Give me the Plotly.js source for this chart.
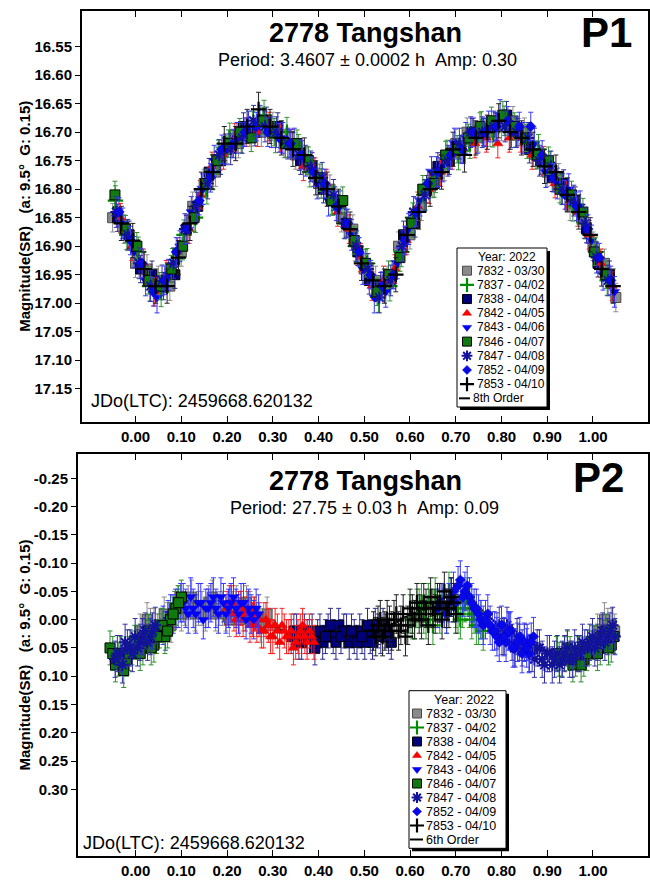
<!DOCTYPE html>
<html><head><meta charset="utf-8">
<script src="https://cdn.plot.ly/plotly-3.0.1.min.js"></script>
<style>html,body{margin:0;padding:0;background:#fff}#chart{width:650px;height:884px}</style>
</head><body><div id="chart"></div>
<script>
// ---------- DATA ----------
const sessionNames = ['7832 - 03/30','7837 - 04/02','7838 - 04/04','7842 - 04/05','7843 - 04/06','7846 - 04/07','7847 - 04/08','7852 - 04/09','7853 - 04/10'];
const legendTitle = 'Year: 2022';
const fitNameP1 = '8th Order';
const fitNameP2 = '6th Order';
const phaseTickVals = [0,0.1,0.2,0.3,0.4,0.5,0.6,0.7,0.8,0.9,1.0];
const phaseTickText = ['0.00','0.10','0.20','0.30','0.40','0.50','0.60','0.70','0.80','0.90','1.00'];
const p1TickVals = [16.55,16.60,16.65,16.70,16.75,16.80,16.85,16.90,16.95,17.00,17.05,17.10,17.15];
const p1TickText = ['16.55','16.60','16.65','16.70','16.75','16.80','16.85','16.90','16.95','17.00','17.05','17.10','17.15'];
const p2TickVals = [-0.25,-0.20,-0.15,-0.10,-0.05,0.00,0.05,0.10,0.15,0.20,0.25,0.30];
const p2TickText = ['-0.25','-0.20','-0.15','-0.10','-0.05','0.00','0.05','0.10','0.15','0.20','0.25','0.30'];

// P1 (3.4607 h) phased magnitudes
const p1Phase_7832 = [-0.050,-0.025,0.000,0.025,0.050,0.075,0.100,0.125,0.150,0.175,0.200,0.225,0.250,0.275,0.300,0.325,0.350,0.375,0.400,0.425,0.450,0.475,0.500,0.525,0.550,0.575,0.600,0.625,0.650,0.675,0.700,0.725,0.750,0.775,0.800,0.825,0.850,0.875,0.900,0.925,0.950,0.975,1.000,1.025,1.050];
const p1Mag_7832   = [16.85,16.87,16.93,16.94,16.96,16.97,16.91,16.83,16.79,16.77,16.73,16.72,16.70,16.70,16.69,16.72,16.74,16.75,16.79,16.80,16.85,16.87,16.94,16.96,16.96,16.90,16.88,16.83,16.79,16.76,16.72,16.70,16.71,16.70,16.69,16.68,16.70,16.74,16.77,16.78,16.83,16.85,16.90,16.93,16.99];
const p1Phase_7837 = [-0.044,-0.019,0.006,0.031,0.056,0.081,0.106,0.131,0.156,0.181,0.206,0.231,0.256,0.281,0.306,0.331,0.356,0.381,0.406,0.431,0.456,0.481,0.506,0.531,0.556,0.581,0.606,0.631,0.656,0.681,0.706,0.731,0.756,0.781,0.806,0.831,0.856,0.881,0.906,0.931,0.956,0.981,1.006,1.031];
const p1Mag_7837   = [16.82,16.88,16.91,16.97,16.98,16.93,16.88,16.85,16.80,16.74,16.71,16.71,16.69,16.67,16.71,16.70,16.73,16.77,16.79,16.82,16.86,16.90,16.93,16.99,16.97,16.91,16.85,16.81,16.78,16.74,16.74,16.72,16.69,16.70,16.68,16.70,16.72,16.73,16.76,16.80,16.83,16.86,16.91,16.96];
const p1Phase_7838 = [-0.039,-0.014,0.011,0.036,0.061,0.086,0.111,0.136,0.161,0.186,0.211,0.236,0.261,0.286,0.311,0.336,0.361,0.386,0.411,0.436,0.461,0.486,0.511,0.536,0.561,0.586,0.611,0.636,0.661,0.686,0.711,0.736,0.761,0.786,0.811,0.836,0.861,0.886,0.911,0.936,0.961,0.986,1.011,1.036];
const p1Mag_7838   = [16.85,16.88,16.94,16.95,16.97,16.95,16.87,16.83,16.77,16.75,16.72,16.69,16.70,16.68,16.69,16.72,16.75,16.76,16.80,16.82,16.86,16.91,16.96,16.97,16.95,16.88,16.86,16.80,16.76,16.75,16.73,16.70,16.70,16.69,16.67,16.70,16.73,16.75,16.78,16.79,16.82,16.87,16.93,16.95];
const p1Phase_7842 = [-0.033,-0.008,0.017,0.042,0.067,0.092,0.117,0.142,0.167,0.192,0.217,0.242,0.267,0.292,0.317,0.342,0.367,0.392,0.417,0.442,0.467,0.492,0.517,0.542,0.567,0.592,0.617,0.642,0.667,0.692,0.717,0.742,0.767,0.792,0.817,0.842,0.867,0.892,0.917,0.942,0.967,0.992,1.017,1.042];
const p1Mag_7842   = [16.85,16.90,16.93,16.98,16.95,16.91,16.87,16.81,16.76,16.74,16.71,16.70,16.70,16.69,16.71,16.72,16.76,16.77,16.79,16.84,16.87,16.92,16.97,16.96,16.94,16.89,16.83,16.80,16.77,16.74,16.73,16.72,16.71,16.72,16.71,16.71,16.74,16.75,16.79,16.81,16.84,16.88,16.93,16.97];
const p1Phase_7843 = [-0.028,-0.003,0.022,0.047,0.072,0.097,0.122,0.147,0.172,0.197,0.222,0.247,0.272,0.297,0.322,0.347,0.372,0.397,0.422,0.447,0.472,0.497,0.522,0.547,0.572,0.597,0.622,0.647,0.672,0.697,0.722,0.747,0.772,0.797,0.822,0.847,0.872,0.897,0.922,0.947,0.972,0.997,1.022,1.047];
const p1Mag_7843   = [16.86,16.91,16.96,16.99,16.95,16.90,16.84,16.80,16.75,16.73,16.71,16.69,16.68,16.70,16.71,16.72,16.75,16.79,16.82,16.83,16.88,16.94,16.99,16.98,16.93,16.87,16.82,16.77,16.76,16.72,16.71,16.71,16.69,16.67,16.70,16.71,16.72,16.77,16.79,16.80,16.83,16.89,16.95,16.98];
const p1Phase_7846 = [-0.045,-0.022,0.003,0.028,0.053,0.078,0.103,0.128,0.153,0.178,0.203,0.228,0.253,0.278,0.303,0.328,0.353,0.378,0.403,0.428,0.453,0.478,0.503,0.528,0.553,0.578,0.603,0.628,0.653,0.678,0.703,0.728,0.753,0.778,0.803,0.828,0.853,0.878,0.903,0.928,0.953,0.978,1.003,1.028];
const p1Mag_7846   = [16.81,16.87,16.90,16.96,16.97,16.94,16.90,16.85,16.79,16.75,16.72,16.70,16.71,16.68,16.70,16.72,16.72,16.75,16.78,16.82,16.82,16.89,16.93,16.98,16.95,16.92,16.86,16.80,16.79,16.74,16.73,16.71,16.69,16.68,16.67,16.69,16.71,16.74,16.75,16.80,16.81,16.84,16.91,16.95];
const p1Phase_7847 = [-0.042,-0.017,0.008,0.033,0.058,0.083,0.108,0.133,0.158,0.183,0.208,0.233,0.258,0.283,0.308,0.333,0.358,0.383,0.408,0.433,0.458,0.483,0.508,0.533,0.558,0.583,0.608,0.633,0.658,0.683,0.708,0.733,0.758,0.783,0.808,0.833,0.858,0.883,0.908,0.933,0.958,0.983,1.008,1.033];
const p1Mag_7847   = [16.84,16.88,16.93,16.97,16.96,16.93,16.87,16.83,16.79,16.74,16.73,16.71,16.68,16.69,16.70,16.72,16.74,16.76,16.78,16.81,16.86,16.90,16.94,16.99,16.96,16.90,16.84,16.81,16.77,16.75,16.72,16.70,16.70,16.69,16.69,16.70,16.71,16.75,16.76,16.80,16.82,16.86,16.92,16.96];
const p1Phase_7852 = [-0.036,-0.011,0.014,0.039,0.064,0.089,0.114,0.139,0.164,0.189,0.214,0.239,0.264,0.289,0.314,0.339,0.364,0.389,0.414,0.439,0.464,0.489,0.514,0.539,0.564,0.589,0.614,0.639,0.664,0.689,0.714,0.739,0.764,0.789,0.814,0.839,0.864,0.889,0.914,0.939,0.964,0.989,1.014,1.039];
const p1Mag_7852   = [16.84,16.89,16.93,16.98,16.96,16.91,16.87,16.82,16.78,16.73,16.72,16.70,16.69,16.70,16.71,16.72,16.74,16.77,16.79,16.83,16.86,16.91,16.95,16.97,16.95,16.89,16.84,16.79,16.77,16.74,16.73,16.70,16.70,16.69,16.68,16.69,16.69,16.74,16.78,16.81,16.83,16.87,16.92,16.96];
const p1Phase_7853 = [-0.031,-0.006,0.019,0.044,0.069,0.094,0.119,0.144,0.169,0.194,0.219,0.244,0.269,0.294,0.319,0.344,0.369,0.394,0.419,0.444,0.469,0.494,0.519,0.544,0.569,0.594,0.619,0.644,0.669,0.694,0.719,0.744,0.769,0.794,0.819,0.844,0.869,0.894,0.919,0.944,0.969,0.994,1.019,1.044];
const p1Mag_7853   = [16.86,16.89,16.94,16.97,16.97,16.92,16.86,16.80,16.77,16.72,16.72,16.69,16.66,16.69,16.71,16.73,16.74,16.78,16.80,16.83,16.87,16.93,16.96,16.97,16.95,16.88,16.84,16.80,16.77,16.73,16.74,16.71,16.70,16.68,16.70,16.71,16.73,16.76,16.77,16.81,16.84,16.88,16.94,16.97];
const p1Err = [0.025,0.026,0.024,0.025,0.027,0.024,0.027,0.025,0.030];

const fitPhase = [-0.05,-0.03,-0.01,0.01,0.03,0.05,0.07,0.09,0.11,0.13,0.15,0.17,0.19,0.21,0.23,0.25,0.27,0.29,0.31,0.33,0.35,0.37,0.39,0.41,0.43,0.45,0.47,0.49,0.51,0.53,0.55,0.57,0.59,0.61,0.63,0.65,0.67,0.69,0.71,0.73,0.75,0.77,0.79,0.81,0.83,0.85,0.87,0.89,0.91,0.93,0.95,0.97,0.99,1.01,1.03,1.05];
const fitP1Mag = [16.83,16.85,16.89,16.93,16.96,16.975,16.96,16.92,16.875,16.835,16.80,16.765,16.735,16.715,16.70,16.69,16.685,16.69,16.70,16.715,16.735,16.75,16.765,16.79,16.815,16.845,16.875,16.91,16.95,16.98,16.97,16.945,16.895,16.85,16.81,16.78,16.755,16.74,16.725,16.71,16.70,16.69,16.68,16.685,16.695,16.71,16.73,16.75,16.775,16.795,16.815,16.835,16.87,16.915,16.95,16.97];

// P2 (27.75 h) phased residual magnitudes
const p2Phase_7832 = [0.010,0.025,0.040,0.055,0.070,0.085,0.100,0.115,0.130,0.145,0.160,0.175,0.190,0.205,0.220,0.235,0.250,0.265,0.280,0.295,1.010,1.025,1.040,
  0.0175,0.0325,0.0475,0.0625,0.0775,0.0925,0.1075,0.1225,0.1375,0.1525,0.1675,0.1825,0.1975,0.2125,0.2275,0.2425,0.2575,0.2725,0.2875,1.0175,1.0325,1.0475];
const p2Mag_7832   = [0.02,0.00,0.01,0.01,0.00,-0.02,-0.01,-0.03,-0.01,-0.02,-0.03,-0.01,-0.02,0.00,-0.03,-0.01,-0.02,0.00,0.00,0.01,0.02,0.00,0.01,
  0.03,0.01,0.02,-0.01,0.01,-0.03,-0.02,-0.04,-0.02,-0.01,-0.04,-0.02,-0.01,-0.02,0.00,-0.03,-0.01,0.01,-0.01,0.03,0.01,0.02];
const p2Phase_7837 = [0.600,0.610,0.620,0.630,0.640,0.650,0.660,0.670,0.680,0.690,0.700,0.710,0.720,0.730,0.740,0.750,0.760,
  0.605,0.615,0.625,0.635,0.645,0.655,0.665,0.675,0.685,0.695,0.705,0.715,0.725,0.735,0.745,0.755];
const p2Mag_7837   = [-0.01,0.00,-0.02,-0.01,-0.03,0.01,-0.02,-0.03,-0.01,-0.04,-0.02,0.00,-0.03,-0.02,-0.01,0.01,0.02,
  0.00,-0.02,-0.03,0.00,-0.02,-0.04,-0.01,-0.02,-0.05,-0.03,-0.01,-0.02,-0.04,0.00,0.01,0.00];
const p2Phase_7838 = [0.340,0.352,0.363,0.375,0.386,0.398,0.409,0.421,0.432,0.444,0.455,0.467,0.478,0.490,0.501,0.513,0.524,0.536,0.547,0.559,
  0.346,0.357,0.369,0.380,0.392,0.403,0.415,0.426,0.438,0.449,0.461,0.472,0.484,0.495,0.507,0.518,0.530,0.541,0.553];
const p2Mag_7838   = [0.03,0.02,0.04,0.03,0.02,0.03,0.04,0.02,0.03,0.01,0.02,0.04,0.03,0.02,0.04,0.03,0.01,0.03,0.02,0.04,
  0.02,0.04,0.02,0.03,0.05,0.02,0.03,0.01,0.04,0.03,0.02,0.02,0.04,0.03,0.01,0.04,0.02,0.01,0.03];
const p2Phase_7842 = [0.200,0.210,0.220,0.230,0.240,0.250,0.260,0.270,0.280,0.290,0.300,0.310,0.320,0.330,0.340,0.350,0.360,0.370,0.380,0.390,
  0.205,0.215,0.225,0.235,0.245,0.255,0.265,0.275,0.285,0.295,0.305,0.315,0.325,0.335,0.345,0.355,0.365,0.375,0.385];
const p2Mag_7842   = [-0.02,-0.03,0.00,-0.02,-0.01,0.01,-0.01,0.00,0.02,0.01,0.03,0.02,0.01,0.03,0.02,0.04,0.02,0.03,0.02,0.04,
  -0.03,-0.01,-0.02,0.00,-0.02,0.00,0.01,0.02,0.00,0.03,0.01,0.04,0.02,0.03,0.05,0.03,0.01,0.04,0.03];
const p2Phase_7843 = [0.060,0.071,0.082,0.093,0.104,0.115,0.126,0.137,0.148,0.159,0.170,0.181,0.192,0.203,0.214,0.225,0.236,0.247,0.258,0.269,
  0.0655,0.0765,0.0875,0.0985,0.1095,0.1205,0.1315,0.1425,0.1535,0.1645,0.1755,0.1865,0.1975,0.2085,0.2195,0.2305,0.2415,0.2525,0.2635];
const p2Mag_7843   = [0.01,0.00,-0.01,-0.02,-0.03,-0.01,-0.02,-0.03,0.00,-0.02,-0.04,-0.01,-0.03,-0.02,-0.04,-0.01,-0.03,-0.02,0.00,-0.01,
  0.02,-0.01,-0.02,-0.03,-0.02,-0.04,-0.01,-0.03,-0.02,-0.03,-0.02,-0.04,-0.01,-0.03,-0.02,-0.03,0.00,-0.01,-0.02];
const p2Phase_7846 = [-0.056,-0.044,-0.032,-0.020,-0.008,0.004,0.016,0.028,0.040,0.052,0.064,0.076,0.088,0.100,0.920,0.932,0.944,0.956,0.968,0.980,0.992,1.004,1.016,1.028,1.040,
  -0.050,-0.038,-0.026,-0.014,-0.002,0.010,0.022,0.034,0.046,0.058,0.070,0.082,0.094,0.926,0.938,0.950,0.962,0.974,0.986,0.998,1.010,1.022,1.034,1.046];
const p2Mag_7846   = [0.05,0.08,0.06,0.07,0.05,0.04,0.05,0.02,0.045,0.02,0.03,0.00,-0.02,-0.04,0.06,0.07,0.05,0.08,0.06,0.07,0.05,0.04,0.05,0.02,0.045,
  0.06,0.07,0.09,0.06,0.04,0.06,0.03,0.05,0.03,0.01,0.02,-0.01,-0.03,0.07,0.06,0.06,0.07,0.08,0.06,0.04,0.06,0.03,0.05,0.03];
const p2Phase_7847 = [-0.045,-0.034,-0.023,-0.012,-0.001,0.010,0.021,0.032,0.043,0.790,0.801,0.812,0.823,0.834,0.845,0.856,0.867,0.878,0.889,0.900,0.911,0.922,0.933,0.944,0.955,0.966,0.977,0.988,0.999,1.010,1.021,1.032,1.043,
  -0.040,-0.029,-0.018,-0.007,0.004,0.015,0.026,0.037,0.795,0.806,0.817,0.828,0.839,0.850,0.861,0.872,0.883,0.894,0.905,0.916,0.927,0.938,0.949,0.960,0.971,0.982,0.993,1.004,1.015,1.026,1.037,1.048];
const p2Mag_7847   = [0.07,0.06,0.04,0.05,0.03,0.04,0.02,0.03,0.01,0.02,0.03,0.01,0.04,0.03,0.05,0.04,0.06,0.05,0.07,0.06,0.08,0.06,0.07,0.05,0.07,0.06,0.04,0.05,0.03,0.04,0.02,0.03,0.01,
  0.06,0.08,0.05,0.06,0.05,0.03,0.04,0.02,0.01,0.03,0.02,0.05,0.04,0.04,0.06,0.07,0.05,0.08,0.06,0.07,0.08,0.06,0.07,0.05,0.06,0.05,0.04,0.05,0.03,0.04,0.02,0.03];
const p2Phase_7852 = [0.660,0.670,0.680,0.690,0.700,0.710,0.720,0.730,0.740,0.750,0.760,0.770,0.780,0.790,0.800,0.810,0.820,0.830,0.840,0.850,0.860,0.870,
  0.665,0.675,0.685,0.695,0.705,0.715,0.725,0.735,0.745,0.755,0.765,0.775,0.785,0.795,0.805,0.815,0.825,0.835,0.845,0.855,0.865];
const p2Mag_7852   = [-0.02,-0.03,-0.01,-0.04,-0.03,-0.07,-0.05,-0.04,-0.02,-0.01,0.01,-0.01,0.02,0.03,0.01,0.04,0.02,0.05,0.03,0.04,0.06,0.03,
  -0.03,-0.02,-0.03,-0.05,-0.06,-0.04,-0.06,-0.03,-0.02,0.00,0.00,0.01,0.02,0.04,0.03,0.02,0.05,0.04,0.06,0.05,0.04];
const p2Phase_7853 = [0.520,0.530,0.540,0.550,0.560,0.570,0.580,0.590,0.600,0.610,0.620,0.630,0.640,0.650,0.660,0.670,0.680,0.690,0.700,
  0.525,0.535,0.545,0.555,0.565,0.575,0.585,0.595,0.605,0.615,0.625,0.635,0.645,0.655,0.665,0.675,0.685,0.695];
const p2Mag_7853   = [0.02,0.01,0.03,0.00,0.02,-0.01,0.01,0.03,-0.02,0.00,-0.01,-0.03,0.01,-0.02,-0.03,0.00,-0.02,-0.04,-0.01,
  0.03,0.00,0.02,0.01,0.00,0.02,-0.01,0.01,-0.01,-0.03,0.00,-0.02,-0.04,-0.01,-0.03,-0.05,-0.02,-0.03];
const p2Err = [0.030,0.034,0.030,0.030,0.034,0.030,0.032,0.034,0.034];
const fitP2Mag = [0.065,0.07,0.058,0.043,0.032,0.02,-0.003,-0.02,-0.023,-0.022,-0.027,-0.025,-0.02,-0.02,-0.018,-0.012,-0.005,0.005,0.015,0.022,0.025,0.025,0.025,0.025,0.025,0.025,0.025,0.022,0.02,0.017,0.012,0.005,-0.005,-0.012,-0.018,-0.022,-0.027,-0.032,-0.035,-0.032,-0.022,-0.008,0.008,0.02,0.028,0.035,0.045,0.052,0.058,0.06,0.058,0.05,0.04,0.03,0.022,0.018];

// ---------- STYLE ----------
const FONT = 'Liberation Sans, Arial, sans-serif';
const NB = '\u00a0';
const styles = [
  {symbol:'square', size:10, color:'#8a8a8a', line:'#4a4a4a', lw:1, err:'#8c8c8c'},
  {symbol:'cross-thin-open', size:11, color:'#008a00', line:'#008a00', lw:2.2, err:'#2e9a2e'},
  {symbol:'square', size:10, color:'#00007a', line:'#000000', lw:1, err:'#2b2b8f'},
  {symbol:'triangle-up', size:9, color:'#ff0000', line:'#d00000', lw:0.5, err:'#ff2020'},
  {symbol:'triangle-down', size:9, color:'#0000ff', line:'#0000d0', lw:0.5, err:'#3535ff'},
  {symbol:'square', size:10, color:'#107a10', line:'#000000', lw:1, err:'#2e8f2e'},
  {symbol:'asterisk-open', size:10, color:'#12129a', line:'#12129a', lw:2, err:'#3030a8'},
  {symbol:'diamond', size:8, color:'#0808e8', line:'#0000c0', lw:0.5, err:'#3a3aff'},
  {symbol:'cross-thin-open', size:11, color:'#000000', line:'#000000', lw:2.2, err:'#202020'}
];

function sessionTrace(x, y, i, err, xa, ya) {
  const s = styles[i];
  return {
    type:'scatter', mode:'markers', x:x, y:y, xaxis:xa, yaxis:ya, showlegend:false, name:sessionNames[i],
    marker:{symbol:s.symbol, size:s.size, color:s.color, line:{color:s.line, width:s.lw}},
    error_y:{type:'constant', value:err, color:s.err, thickness:1, width:2.5},
    hoverinfo:'skip'
  };
}

const p1x = [p1Phase_7832,p1Phase_7837,p1Phase_7838,p1Phase_7842,p1Phase_7843,p1Phase_7846,p1Phase_7847,p1Phase_7852,p1Phase_7853];
const p1y = [p1Mag_7832,p1Mag_7837,p1Mag_7838,p1Mag_7842,p1Mag_7843,p1Mag_7846,p1Mag_7847,p1Mag_7852,p1Mag_7853];
const p2x = [p2Phase_7832,p2Phase_7837,p2Phase_7838,p2Phase_7842,p2Phase_7843,p2Phase_7846,p2Phase_7847,p2Phase_7852,p2Phase_7853];
const p2y = [p2Mag_7832,p2Mag_7837,p2Mag_7838,p2Mag_7842,p2Mag_7843,p2Mag_7846,p2Mag_7847,p2Mag_7852,p2Mag_7853];

const W = 650, H = 884;
const px = v => v / W, py = v => 1 - v / H;

const traces = [];
traces.push({type:'scatter', mode:'lines', x:fitPhase, y:fitP1Mag, xaxis:'x', yaxis:'y', showlegend:false,
  name:fitNameP1, line:{color:'#000', width:2}, hoverinfo:'skip'});
for (let i=0;i<9;i++) traces.push(sessionTrace(p1x[i], p1y[i], i, p1Err[i], 'x', 'y'));
traces.push({type:'scatter', mode:'lines', x:fitPhase, y:fitP2Mag, xaxis:'x2', yaxis:'y2', showlegend:false,
  name:fitNameP2, line:{color:'#000', width:2}, hoverinfo:'skip'});
for (let i=0;i<9;i++) traces.push(sessionTrace(p2x[i], p2y[i], i, p2Err[i], 'x2', 'y2'));

// ---------- custom legends (box geometry in page pixels) ----------
const legendBoxes = [
  {ax:'3', x0:457, y0:248, x1:547, y1:407, titleX:507, titleY:256.5, firstY:270.7, step:14.18, symX:467, textX:475, lineX0:459, lineX1:470, font:12, fitName:fitNameP1},
  {ax:'4', x0:409, y0:690.7, x1:506, y1:848.3, titleX:464, titleY:699.5, firstY:713.5, step:14.0, symX:417, textX:424, lineX0:410, lineX1:423, font:12.5, fitName:fitNameP2}
];
const shapes = [];
const annotations = [];
const extraAxes = {};
legendBoxes.forEach(L => {
  const w = L.x1 - L.x0, h = L.y1 - L.y0;
  const xa = 'x' + L.ax, ya = 'y' + L.ax;
  extraAxes['xaxis' + L.ax] = {domain:[px(L.x0), px(L.x1)], range:[0, w], visible:false, anchor:ya, fixedrange:true};
  extraAxes['yaxis' + L.ax] = {domain:[py(L.y1), py(L.y0)], range:[h, 0], visible:false, anchor:xa, fixedrange:true};
  shapes.push({type:'rect', xref:'paper', yref:'paper', x0:px(L.x0+3), x1:px(L.x1+3), y0:py(L.y1+3), y1:py(L.y0+3),
    fillcolor:'#000', line:{width:0}, layer:'below'});
  shapes.push({type:'rect', xref:'paper', yref:'paper', x0:px(L.x0), x1:px(L.x1), y0:py(L.y1), y1:py(L.y0),
    fillcolor:'#fff', line:{color:'#000', width:1}, layer:'below'});
  annotations.push({text:legendTitle, xref:xa, yref:ya, x:L.titleX - L.x0, y:L.titleY - L.y0, showarrow:false,
    xanchor:'center', yanchor:'middle', font:{family:FONT, size:L.font, color:'#000'}});
  for (let i=0;i<9;i++) {
    const s = styles[i];
    const yy = L.firstY + i*L.step - L.y0;
    traces.push({type:'scatter', mode:'markers', x:[L.symX - L.x0], y:[yy], xaxis:xa, yaxis:ya, showlegend:false, hoverinfo:'skip',
      marker:{symbol:s.symbol, size:s.size-1, color:s.color, line:{color:s.line, width:s.lw}}});
    annotations.push({text:sessionNames[i], xref:xa, yref:ya, x:L.textX - L.x0, y:yy, showarrow:false,
      xanchor:'left', yanchor:'middle', font:{family:FONT, size:L.font, color:'#000'}});
  }
  const yl = L.firstY + 9*L.step - L.y0;
  traces.push({type:'scatter', mode:'lines', x:[L.lineX0 - L.x0, L.lineX1 - L.x0], y:[yl, yl], xaxis:xa, yaxis:ya,
    showlegend:false, hoverinfo:'skip', line:{color:'#000', width:2}});
  annotations.push({text:L.fitName, xref:xa, yref:ya, x:L.lineX1 + 1 - L.x0, y:yl, showarrow:false,
    xanchor:'left', yanchor:'middle', font:{family:FONT, size:L.font, color:'#000'}});
});

const tickFont = {family:FONT, size:15, color:'#000', weight:'bold'};
function xAxis(domain, range, anchor) {
  return {domain:domain, range:range, anchor:anchor, tickvals:phaseTickVals, ticktext:phaseTickText,
    ticks:'inside', ticklen:6, tickwidth:1, tickcolor:'#000', mirror:'ticks', showline:true, linecolor:'#000', linewidth:2,
    showgrid:false, zeroline:false, tickfont:tickFont, ticklabelstandoff:0, fixedrange:true};
}
function yAxis(domain, range, anchor, tv, tt) {
  return {domain:domain, range:range, anchor:anchor, tickvals:tv, ticktext:tt,
    ticks:'outside', ticklen:5, tickwidth:1, tickcolor:'#000', mirror:true, showline:true, linecolor:'#000', linewidth:2,
    showgrid:false, zeroline:false, tickfont:tickFont, fixedrange:true,
    title:{text:'Magnitude(SR)' + NB+NB+NB + '(a:' + NB + '9.5°' + NB+NB + 'G:' + NB + '0.15)',
      font:{family:FONT, size:15, color:'#000', weight:'bold'}, standoff:0}};
}
// right-hand inner tick marks
function yRight(over, anchor, range, tv) {
  return {overlaying:over, anchor:anchor, side:'right', range:range, tickvals:tv, showticklabels:false,
    ticks:'inside', ticklen:5, tickwidth:1, tickcolor:'#000', showline:false, showgrid:false, zeroline:false, fixedrange:true};
}

function ann(text, x, y, size, weight, xanchor) {
  return {text:text, x:x, y:y, xref:'paper', yref:'paper', showarrow:false, xanchor:xanchor||'center', yanchor:'middle',
    font:{family:FONT, size:size, color:'#000', weight:weight}};
}

const layout = Object.assign({
  width:W, height:H, margin:{l:0, r:0, t:0, b:0}, paper_bgcolor:'#fff', plot_bgcolor:'rgba(0,0,0,0)', showlegend:false,
  xaxis: xAxis([px(82), px(648)], [-0.117, 1.1203], 'y'),
  yaxis: yAxis([py(421.5), py(11)], [17.2075, 16.4874], 'x', p1TickVals, p1TickText),
  xaxis2: xAxis([px(78), px(648)], [-0.126, 1.1203], 'y2'),
  yaxis2: yAxis([py(856), py(454)], [0.418, -0.293], 'x2', p2TickVals, p2TickText),
  yaxis5: yRight('y', 'x', [17.2075, 16.4874], p1TickVals),
  yaxis6: yRight('y2', 'x2', [0.418, -0.293], p2TickVals),
  shapes: shapes,
  annotations: annotations.concat([
    ann('2778 Tangshan', px(366), py(33), 27, 'bold'),
    ann('Period: 3.4607 ± 0.0002 h' + NB + NB + 'Amp: 0.30', px(367), py(60), 18, 'normal'),
    ann('P1', px(606), py(33), 42, 'bold'),
    ann('JDo(LTC): 2459668.620132', px(89), py(401), 18, 'normal', 'left'),
    ann('2778 Tangshan', px(366), py(481), 27, 'bold'),
    ann('Period: 27.75 ± 0.03 h' + NB + NB + 'Amp: 0.09', px(364), py(508), 18, 'normal'),
    ann('P2', px(598), py(477), 42, 'bold'),
    ann('JDo(LTC): 2459668.620132', px(81), py(843), 18, 'normal', 'left')
  ])
}, extraAxes);

Plotly.newPlot('chart', traces, layout, {staticPlot:true, displayModeBar:false});
</script></body></html>
